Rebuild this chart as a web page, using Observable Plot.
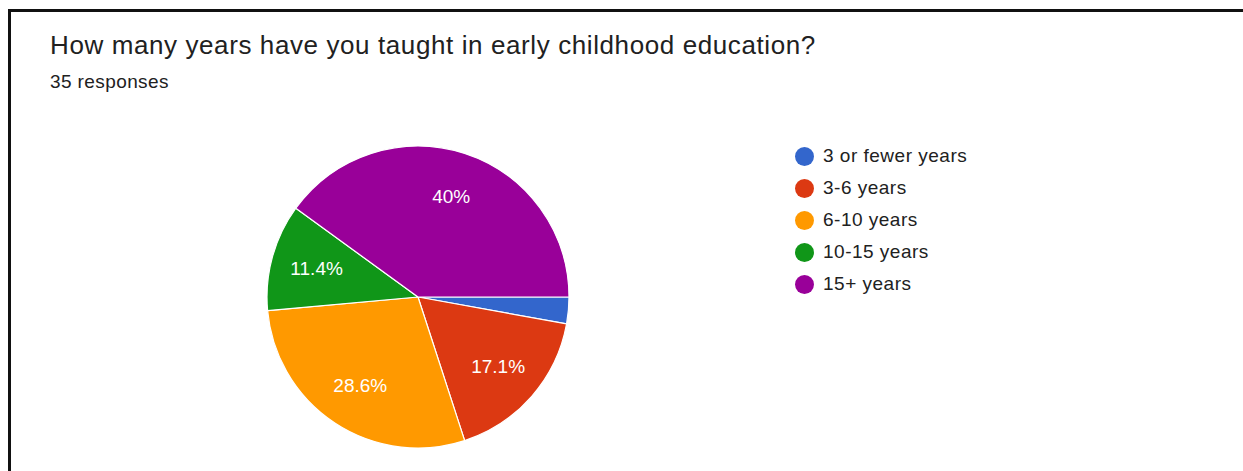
<!DOCTYPE html>
<html><head><meta charset="utf-8">
<script src="https://cdn.jsdelivr.net/npm/d3@7"></script>
<script src="https://cdn.jsdelivr.net/npm/@observablehq/plot@0.6"></script>
<style>
body{margin:0;background:#fff;width:1243px;height:471px;overflow:hidden;position:relative;font-family:"Liberation Sans",Arial,sans-serif;}
#frame{position:absolute;left:8px;top:9px;width:1300px;height:500px;border-left:3px solid #111;border-top:3px solid #111;}
#title{position:absolute;left:50px;top:30px;font-size:26px;letter-spacing:0.6px;color:#212121;white-space:nowrap;}
#sub{position:absolute;left:50px;top:71px;font-size:19px;letter-spacing:0.4px;color:#212121;white-space:nowrap;}
#chart{position:absolute;left:0;top:100px;}
#legend{position:absolute;left:795px;top:140px;}
#legend div{font-family:"Liberation Sans",Arial,sans-serif !important;font-size:19px !important;letter-spacing:0.5px;color:#212121 !important;}
#legend .lg-swatch{height:32px;padding:0 !important;margin:0 !important;display:flex;align-items:center;}
#legend svg{border-radius:50%;overflow:hidden !important;margin-right:9px !important;}
#legend .lg-swatches-columns{columns:auto !important;}
</style></head><body>
<div id="frame"></div>
<div id="title">How many years have you taught in early childhood education?</div>
<div id="sub">35 responses</div>
<div id="chart"></div>
<div id="legend"></div>
<script>
const categories = ["3 or fewer years", "3-6 years", "6-10 years", "10-15 years", "15+ years"];
const counts = [1, 6, 10, 4, 14];
const colors = ["#3366cc", "#dc3912", "#ff9900", "#109618", "#990099"];

const total = d3.sum(counts);
const arcs = d3.pie().sort(null).startAngle(Math.PI / 2).endAngle(Math.PI / 2 + 2 * Math.PI)(counts);
const slices = arcs.map((a, i) => {
  const mid = (a.startAngle + a.endAngle) / 2;
  const share = counts[i] / total;
  return {
    category: categories[i], count: counts[i], share,
    startAngle: a.startAngle, endAngle: a.endAngle,
    lx: 0.7 * Math.sin(mid), ly: -0.7 * Math.cos(mid),
    label: +(share * 100).toFixed(1) + "%"
  };
});

const color = Plot.scale({color: {type: "ordinal", domain: categories, range: colors}});

const cx = 418, cy = 197, R = 151;
const chart = Plot.plot({
  width: 1243, height: 371,
  margin: 0,
  x: {domain: [-1, 1], range: [cx - R, cx + R], axis: null},
  y: {domain: [-1, 1], range: [cy - R, cy + R], axis: null},
  style: {fontFamily: "'Liberation Sans', Arial, sans-serif", background: "transparent"},
  marks: [
    (index, scales) => {
      const ox = scales.x(0), oy = scales.y(0), r = scales.x(1) - scales.x(0);
      const arc = d3.arc().innerRadius(0).outerRadius(r);
      const g = d3.create("svg:g").attr("transform", `translate(${ox},${oy})`);
      g.selectAll("path").data(slices).join("path")
        .attr("d", d => arc(d))
        .attr("fill", d => color.apply(d.category))
        .attr("stroke", "#fff").attr("stroke-width", 1.2).attr("stroke-linejoin", "round");
      return g.node();
    },
    Plot.text(slices.filter(d => d.share > 0.05), {x: "lx", y: "ly", text: "label", fill: "white", fontSize: 19})
  ]
});
document.getElementById("chart").append(chart);

const legend = Plot.legend({color: {type: "ordinal", domain: categories, range: colors}, legend: "swatches", columns: 1, swatchSize: 19, className: "lg"});
document.getElementById("legend").append(legend);
</script>
</body></html>
